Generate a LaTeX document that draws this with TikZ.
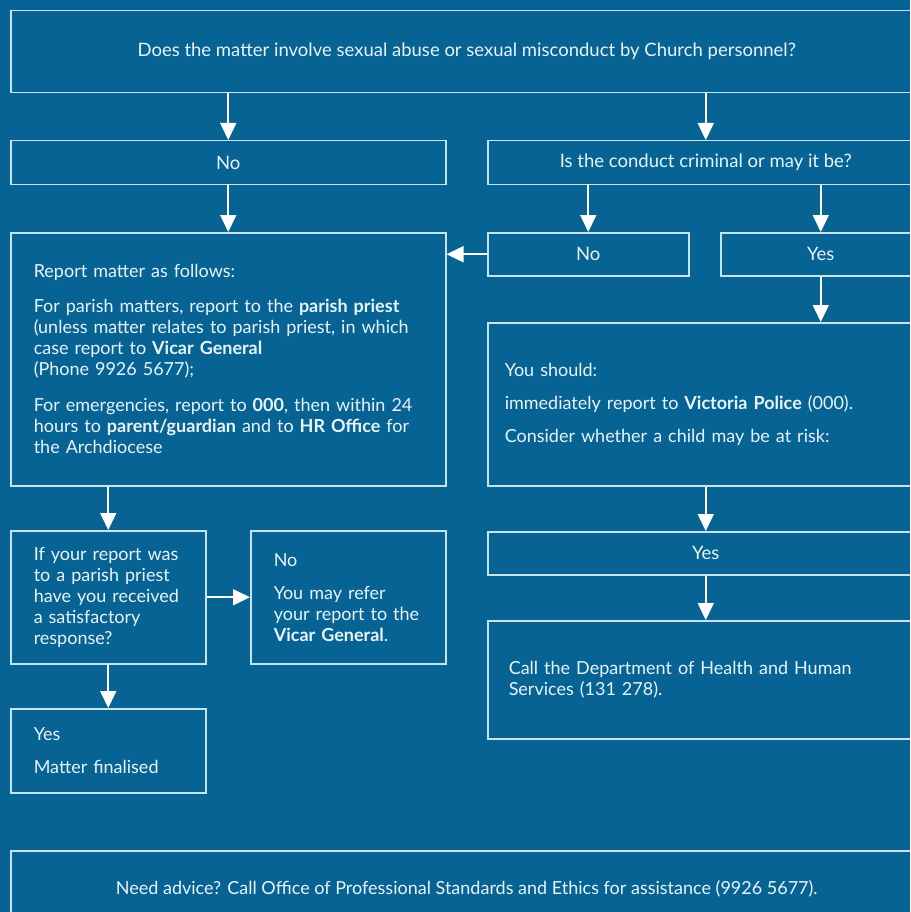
\documentclass[tikz,border=0pt]{standalone}
\usepackage{fontspec}
\setmainfont{Lato}
\usetikzlibrary{arrows.meta}
\definecolor{bgblue}{RGB}{6,99,148}
\definecolor{edgeblue}{RGB}{196,228,240}
\definecolor{txtwhite}{RGB}{232,244,249}
\tikzset{
  box/.style={draw=edgeblue, line width=1.5pt, text=txtwhite, anchor=north west,
    inner sep=0pt, font=\fontsize{18}{21}\selectfont},
  ctrbox/.style={box, align=center, font=\fontsize{18.5}{21}\selectfont},
  leftbox/.style={box, align=left},
  arr/.style={draw=white, line width=1.6pt, -{Triangle[width=16pt,length=17pt]}}
}

\begin{document}
\begin{tikzpicture}[x=1pt,y=-1pt]
\useasboundingbox (0,0) rectangle (910,912);
\clip (0,0) rectangle (910,912);
\fill[bgblue] (0,0) rectangle (910,912);

% top question
\node[ctrbox, minimum width=912pt, minimum height=82pt] (matter) at (10,10)
  {Does the matter involve sexual abuse or sexual misconduct by Church personnel?};
\node[ctrbox, minimum width=435pt, minimum height=44pt] (no1) at (10,140) {No};
\node[ctrbox, minimum width=436pt, minimum height=44pt] (crim) at (487,140)
  {Is the conduct criminal or may it be?};

% left column
\node[leftbox, inner xsep=23pt, text width=389pt, minimum height=253pt] (report) at (10,232)
  {Report matter as follows:\\[14pt]
   For parish matters, report to the \textbf{parish priest}\\
   (unless matter relates to parish priest, in which\\
   case report to \textbf{Vicar General}\\
   (Phone 9926 5677);\\[15pt]
   For emergencies, report to \textbf{000}, then within 24\\
   hours to \textbf{parent/guardian} and to \textbf{HR Office} for\\
   the Archdiocese};
\node[leftbox, inner xsep=23pt, text width=149pt, minimum height=133pt] (ifrep) at (10,530)
  {If your report was\\ to a parish priest\\ have you received\\ a satisfactory\\ response?};
\node[leftbox, inner xsep=23pt, text width=149pt, minimum height=133pt] (refer) at (250,530)
  {No\\[12pt] You may refer\\ your report to the\\ \textbf{Vicar General}.};
\node[leftbox, inner xsep=23pt, text width=149pt, minimum height=84pt] (final) at (10,708)
  {Yes\\[12pt] Matter finalised};

% right column
\node[ctrbox, minimum width=201pt, minimum height=43pt] (no2) at (487,232) {No};
\node[ctrbox, minimum width=200pt, minimum height=43pt] (yes1) at (720,232) {Yes};
\node[leftbox, inner xsep=17pt, text width=402pt, minimum height=163pt] (should) at (487,322)
  {You should:\\[12pt]
   immediately report to \textbf{Victoria Police} (000).\\[12pt]
   Consider whether a child may be at risk:};
\node[ctrbox, minimum width=436pt, minimum height=43pt] (yes2) at (487,531) {Yes};
\node[leftbox, inner xsep=21pt, text width=394pt, minimum height=118pt] (health) at (487,620)
  {Call the Department of Health and Human\\ Services (131 278).};

% footer
\node[ctrbox, font=\fontsize{18}{21}\selectfont, minimum width=912pt, minimum height=76pt] (advice) at (10,850)
  {Need advice? Call Office of Professional Standards and Ethics for assistance (9926 5677).};

% arrows
\draw[arr] (matter.south -| no1.north) -- (no1.north);
\draw[arr] (matter.south -| crim.north) -- (crim.north);
\draw[arr] (no1.south) -- (no1.south |- report.north);
\draw[arr] (crim.south -| no2.north) -- (no2.north);
\draw[arr] (crim.south -| yes1.north) -- (yes1.north);
\draw[arr] (no2.west) -- (no2.west -| report.east);
\draw[arr] (yes1.south) -- (yes1.south |- should.north);
\draw[arr] (should.south) -- (yes2.north);
\draw[arr] (yes2.south) -- (health.north);
\draw[arr] (report.south -| ifrep.north) -- (ifrep.north);
\draw[arr] (ifrep.east) -- (refer.west);
\draw[arr] (ifrep.south) -- (final.north);
\end{tikzpicture}
\end{document}
